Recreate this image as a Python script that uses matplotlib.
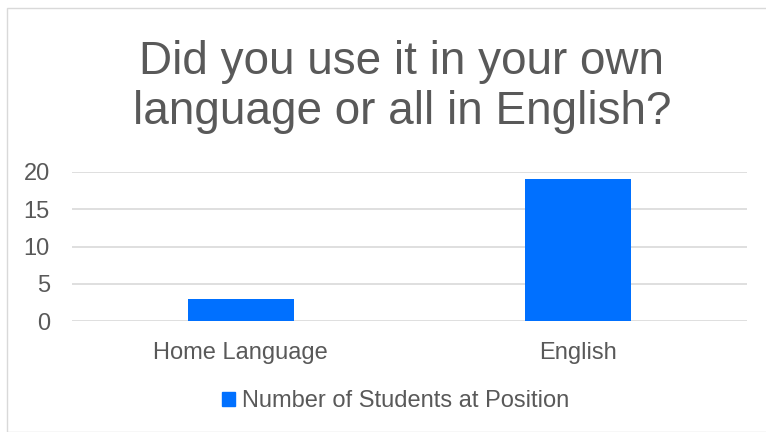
import matplotlib.pyplot as plt
from matplotlib.patches import Rectangle, Patch

categories = ['Home Language', 'English']
students = [3, 19]
series_name = 'Number of Students at Position'
yticks = [0, 5, 10, 15, 20]

plt.rcParams['font.family'] = ['Liberation Sans', 'DejaVu Sans']
txt = '#595959'
blue = '#0070FF'

fig = plt.figure(figsize=(7.66, 4.32), dpi=100)
fig.patches.append(Rectangle((7 / 766, 0), 1, 1 - 8 / 432, transform=fig.transFigure,
                             fill=False, edgecolor='#D9D9D9', linewidth=1))

ax = fig.add_axes([72 / 766, 1 - 321 / 432, 675 / 766, 149 / 432])
ax.bar(range(len(categories)), students, width=0.314, color=blue, zorder=3)
ax.set_xlim(-0.5, len(categories) - 0.5)
ax.set_ylim(0, 20)
ax.set_yticks(yticks)
ax.set_xticks(range(len(categories)))
ax.set_xticklabels(categories)
ax.tick_params(axis='both', length=0, labelsize=17, colors=txt)
ax.tick_params(axis='y', pad=16)
ax.tick_params(axis='x', pad=15)
ax.grid(axis='y', color='#D9D9D9', linewidth=1.2, zorder=0)
for s in ax.spines.values():
    s.set_visible(False)

fig.text(402 / 766, 1 - 87 / 432, 'Did you use it in your own\nlanguage or all in English?',
         ha='center', va='center', fontsize=33, color=txt, linespacing=1.2)

fig.legend(handles=[Patch(color=blue, label=series_name)], loc='center',
           bbox_to_anchor=(396 / 766, 1 - 401 / 432), frameon=False,
           fontsize=17, labelcolor=txt, handlelength=0.55, handleheight=0.55,
           handletextpad=0.3)

fig.savefig('out.png', dpi=100)
